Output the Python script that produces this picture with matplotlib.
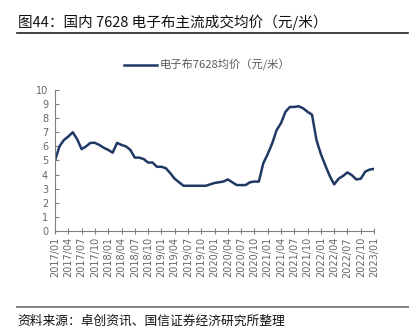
import numpy as np
import matplotlib
matplotlib.use("Agg")
from matplotlib import pyplot as plt
from matplotlib.lines import Line2D

plt.rcParams['font.family'] = ['Noto Sans CJK SC', 'DejaVu Sans']

# monthly average price of 7628 e-glass fabric, 2017/01 .. 2023/01
months = [f"{y}/{m:02d}" for y in range(2017, 2024) for m in range(1, 13)][:73]
price = [
    5.0, 6.0, 6.45, 6.7, 7.0, 6.5, 5.8, 6.0, 6.25, 6.25, 6.1, 5.9,      # 2017
    5.75, 5.55, 6.25, 6.1, 6.0, 5.75, 5.2, 5.2, 5.1, 4.85, 4.85, 4.55,  # 2018
    4.55, 4.45, 4.1, 3.7, 3.45, 3.2, 3.2, 3.2, 3.2, 3.2, 3.2, 3.3,      # 2019
    3.4, 3.45, 3.5, 3.65, 3.45, 3.25, 3.25, 3.25, 3.45, 3.5, 3.5, 4.8,  # 2020
    5.45, 6.2, 7.15, 7.65, 8.45, 8.8, 8.8, 8.85, 8.7, 8.45, 8.25, 6.45, # 2021
    5.45, 4.65, 3.9, 3.3, 3.7, 3.9, 4.15, 3.95, 3.65, 3.7, 4.2, 4.35,   # 2022
    4.4,                                                                # 2023
]
tick_labels = months[::3]

title = "图44：国内 7628 电子布主流成交均价（元/米）"
series_name = "电子布7628均价（元/米）"
source = "资料来源：卓创资讯、国信证券经济研究所整理"

line_color = "#1f3864"
grey = "#666666"

fig = plt.figure(figsize=(4.17, 3.36), dpi=100)
ax = fig.add_axes([0.132, 0.313, 0.765, 0.419])

x = np.arange(len(price))
ax.plot(x, price, color=line_color, lw=1.8, solid_capstyle="round",
        solid_joinstyle="round")

ax.set_xlim(0, len(price) - 1)
ax.set_ylim(0, 10)
ax.set_yticks(range(0, 11))
ax.set_xticks(x[::3])
ax.set_xticklabels(tick_labels, rotation=90, family="DejaVu Sans",
                   fontsize=7, color=grey)
for lab in ax.get_yticklabels():
    lab.set_family("DejaVu Sans")
ax.tick_params(axis="y", direction="in", length=3, labelsize=7,
               labelcolor=grey, color="#808080", pad=5)
ax.tick_params(axis="x", direction="inout", length=5, color="#808080", pad=2)
for side in ("top", "right"):
    ax.spines[side].set_visible(False)
for side in ("left", "bottom"):
    ax.spines[side].set_color("#808080")
    ax.spines[side].set_linewidth(0.8)

# title and rule
fig.text(0.043, 1 - 22 / 336, title, fontsize=10.5, va="center", ha="left",
         color="#111111")
fig.add_artist(Line2D([17 / 417, 408 / 417], [1 - 33 / 336] * 2,
                      color="#222222", lw=1.2))

# legend
fig.add_artist(Line2D([124 / 417, 157 / 417], [1 - 64.5 / 336] * 2,
                      color=line_color, lw=1.8))
fig.text(160 / 417, 1 - 64.5 / 336, series_name, fontsize=8.1,
         va="center", ha="left", color="#595959")

# source
fig.add_artist(Line2D([17 / 417, 408 / 417], [1 - 307 / 336] * 2,
                      color="#808080", lw=1.4))
fig.text(17 / 417, 1 - 321 / 336, source, fontsize=9.2, va="center",
         ha="left", color="#111111")

fig.savefig("out.png", dpi=100)
